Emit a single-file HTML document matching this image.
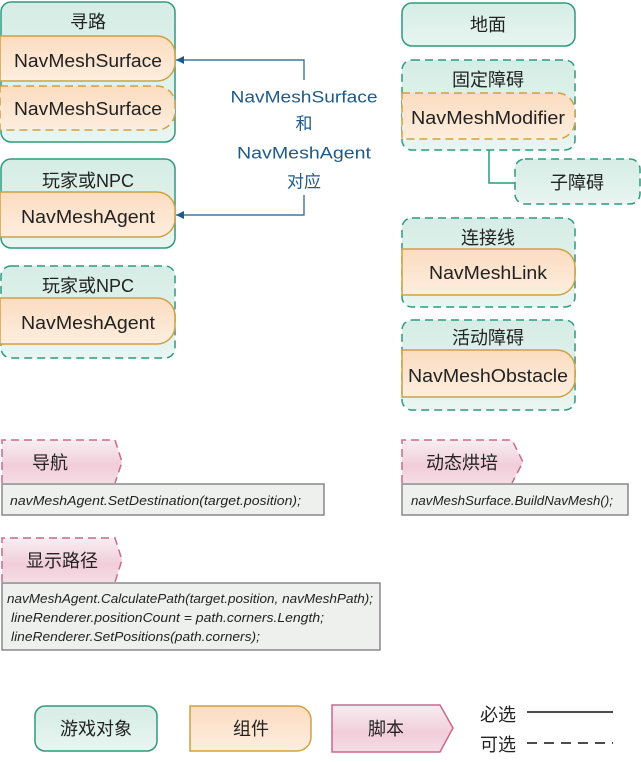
<!DOCTYPE html>
<html><head><meta charset="utf-8"><style>
html,body{margin:0;padding:0;background:#fff;}
svg{display:block;}
text{font-family:"Liberation Sans","Noto Sans CJK SC",sans-serif;fill:#222;}
.t{font-size:18px;text-anchor:middle;dominant-baseline:central;}
.c{font-size:18px;text-anchor:middle;dominant-baseline:central;}
.code{font-size:13px;font-style:italic;fill:#222;}
.blue{font-size:17px;text-anchor:middle;dominant-baseline:central;fill:#1f5a8a;}
</style></head><body>
<svg width="641" height="762" viewBox="0 0 641 762" xmlns="http://www.w3.org/2000/svg">
<defs>
<linearGradient id="g" x1="0" y1="0" x2="0" y2="1"><stop offset="0" stop-color="#d5ede5"/><stop offset="1" stop-color="#e9f5f1"/></linearGradient>
<linearGradient id="o" x1="0" y1="0" x2="0" y2="1"><stop offset="0" stop-color="#fcdcc0"/><stop offset="1" stop-color="#fdeedf"/></linearGradient>
<linearGradient id="p" x1="0" y1="0" x2="0" y2="1"><stop offset="0" stop-color="#f7eef1"/><stop offset="0.6" stop-color="#f1cdd9"/><stop offset="1" stop-color="#f5dde5"/></linearGradient>
<marker id="ar" markerWidth="9" markerHeight="9" refX="8" refY="4" orient="auto" markerUnits="userSpaceOnUse"><path d="M0,0 L8,4 L0,8 Z" fill="#1f5a8a"/></marker>
</defs>
<g stroke="#2f9a7f" stroke-width="1.5" fill="url(#g)">
<rect x="1" y="2" width="174" height="140" rx="10"/>
<rect x="1" y="159" width="174" height="89" rx="10"/>
<rect x="1" y="266" width="174" height="92" rx="10" stroke-dasharray="8,5"/>
<rect x="402" y="3" width="173" height="43" rx="10"/>
<rect x="402" y="60" width="173" height="90" rx="10" stroke-dasharray="8,5"/>
<rect x="515" y="159" width="125" height="45" rx="10" stroke-dasharray="8,5"/>
<rect x="402" y="218" width="173" height="89" rx="10" stroke-dasharray="8,5"/>
<rect x="402" y="320" width="173" height="90" rx="10" stroke-dasharray="8,5"/>
<rect x="35" y="706" width="122" height="45" rx="10"/>
</g>
<path d="M489,150 V183 H515" fill="none" stroke="#2f9a7f" stroke-width="1.5"/>
<g stroke="#d2a040" stroke-width="1.5" fill="url(#o)">
<path d="M0,36 H157 A18,18 0 0 1 175,54 V63 A18,18 0 0 1 157,81 H0 Z"/>
<path d="M0,86 H157 A18,18 0 0 1 175,104 V112 A18,18 0 0 1 157,130 H0 Z" stroke-dasharray="8,5"/>
<path d="M0,192 H157 A18,18 0 0 1 175,210 V219 A18,18 0 0 1 157,237 H0 Z"/>
<path d="M0,298 H157 A18,18 0 0 1 175,316 V326 A18,18 0 0 1 157,344 H0 Z"/>
<path d="M402,93 H557 A18,18 0 0 1 575,111 V121 A18,18 0 0 1 557,139 H402 Z" stroke-dasharray="8,5"/>
<path d="M402,249 H557 A18,18 0 0 1 575,267 V277 A18,18 0 0 1 557,295 H402 Z"/>
<path d="M402,350 H557 A18,18 0 0 1 575,368 V379 A18,18 0 0 1 557,397 H402 Z"/>
<path d="M190,706 H297 A14,14 0 0 1 311,720 V737 A14,14 0 0 1 297,751 H190 Z"/>
</g>
<g stroke="#c86a8d" stroke-width="1.5" fill="url(#p)">
<path d="M2,483 V440 H115 L122,462 L115,483" stroke-dasharray="8,5"/>
<path d="M402,483 V440 H512 L523,462 L512,483" stroke-dasharray="8,5"/>
<path d="M2,582 V538 H115 L122,560 L115,582" stroke-dasharray="8,5"/>
<path d="M332,705 H440 L453,728 L440,752 H332 Z"/>
</g>
<text x="88" y="22" class="t">寻路</text>
<text x="88" y="181" class="t">玩家或NPC</text>
<text x="88" y="286" class="t">玩家或NPC</text>
<text x="488" y="25" class="t">地面</text>
<text x="488" y="80" class="t">固定障碍</text>
<text x="577" y="183" class="t">子障碍</text>
<text x="488" y="238" class="t">连接线</text>
<text x="488" y="338" class="t">活动障碍</text>
<text x="96" y="729" class="t">游戏对象</text>
<text x="251" y="729" class="t">组件</text>
<text x="386" y="729" class="t">脚本</text>
<text x="50" y="463" class="t">导航</text>
<text x="462" y="463" class="t">动态烘培</text>
<text x="62" y="561" class="t">显示路径</text>
<text x="88" y="61" class="c" textLength="148" lengthAdjust="spacingAndGlyphs">NavMeshSurface</text>
<text x="88" y="109" class="c" textLength="148" lengthAdjust="spacingAndGlyphs">NavMeshSurface</text>
<text x="88" y="217" class="c" textLength="134" lengthAdjust="spacingAndGlyphs">NavMeshAgent</text>
<text x="88" y="323" class="c" textLength="134" lengthAdjust="spacingAndGlyphs">NavMeshAgent</text>
<text x="488" y="118" class="c" textLength="154" lengthAdjust="spacingAndGlyphs">NavMeshModifier</text>
<text x="488" y="273" class="c" textLength="118" lengthAdjust="spacingAndGlyphs">NavMeshLink</text>
<text x="488" y="376" class="c" textLength="160" lengthAdjust="spacingAndGlyphs">NavMeshObstacle</text>
<path d="M304,80 V60 H176" fill="none" stroke="#1f5a8a" stroke-width="1.2" marker-end="url(#ar)"/>
<path d="M304,195 V215 H176" fill="none" stroke="#1f5a8a" stroke-width="1.2" marker-end="url(#ar)"/>
<text x="304" y="97" class="blue" textLength="147" lengthAdjust="spacingAndGlyphs">NavMeshSurface</text>
<text x="304" y="124" class="blue">和</text>
<text x="304" y="153" class="blue" textLength="134" lengthAdjust="spacingAndGlyphs">NavMeshAgent</text>
<text x="304" y="182" class="blue">对应</text>
<g fill="#eef0ee" stroke="#888" stroke-width="1.5">
<rect x="2" y="484" width="322" height="31"/>
<rect x="402" y="484" width="226" height="31"/>
<rect x="2" y="583" width="378" height="67"/>
</g>
<text x="10" y="505" class="code" textLength="291" lengthAdjust="spacingAndGlyphs">navMeshAgent.SetDestination(target.position);</text>
<text x="411" y="505" class="code" textLength="202" lengthAdjust="spacingAndGlyphs">navMeshSurface.BuildNavMesh();</text>
<text x="7" y="603" class="code" textLength="366" lengthAdjust="spacingAndGlyphs">navMeshAgent.CalculatePath(target.position, navMeshPath);</text>
<text x="11" y="622" class="code" textLength="313" lengthAdjust="spacingAndGlyphs">lineRenderer.positionCount = path.corners.Length;</text>
<text x="11" y="641" class="code" textLength="249" lengthAdjust="spacingAndGlyphs">lineRenderer.SetPositions(path.corners);</text>
<text x="498" y="715" class="t">必选</text>
<text x="498" y="745" class="t">可选</text>
<line x1="527" y1="712" x2="613" y2="712" stroke="#111" stroke-width="1.5"/>
<line x1="527" y1="743" x2="613" y2="743" stroke="#111" stroke-width="1.5" stroke-dasharray="10,7"/>
</svg>
</body></html>
